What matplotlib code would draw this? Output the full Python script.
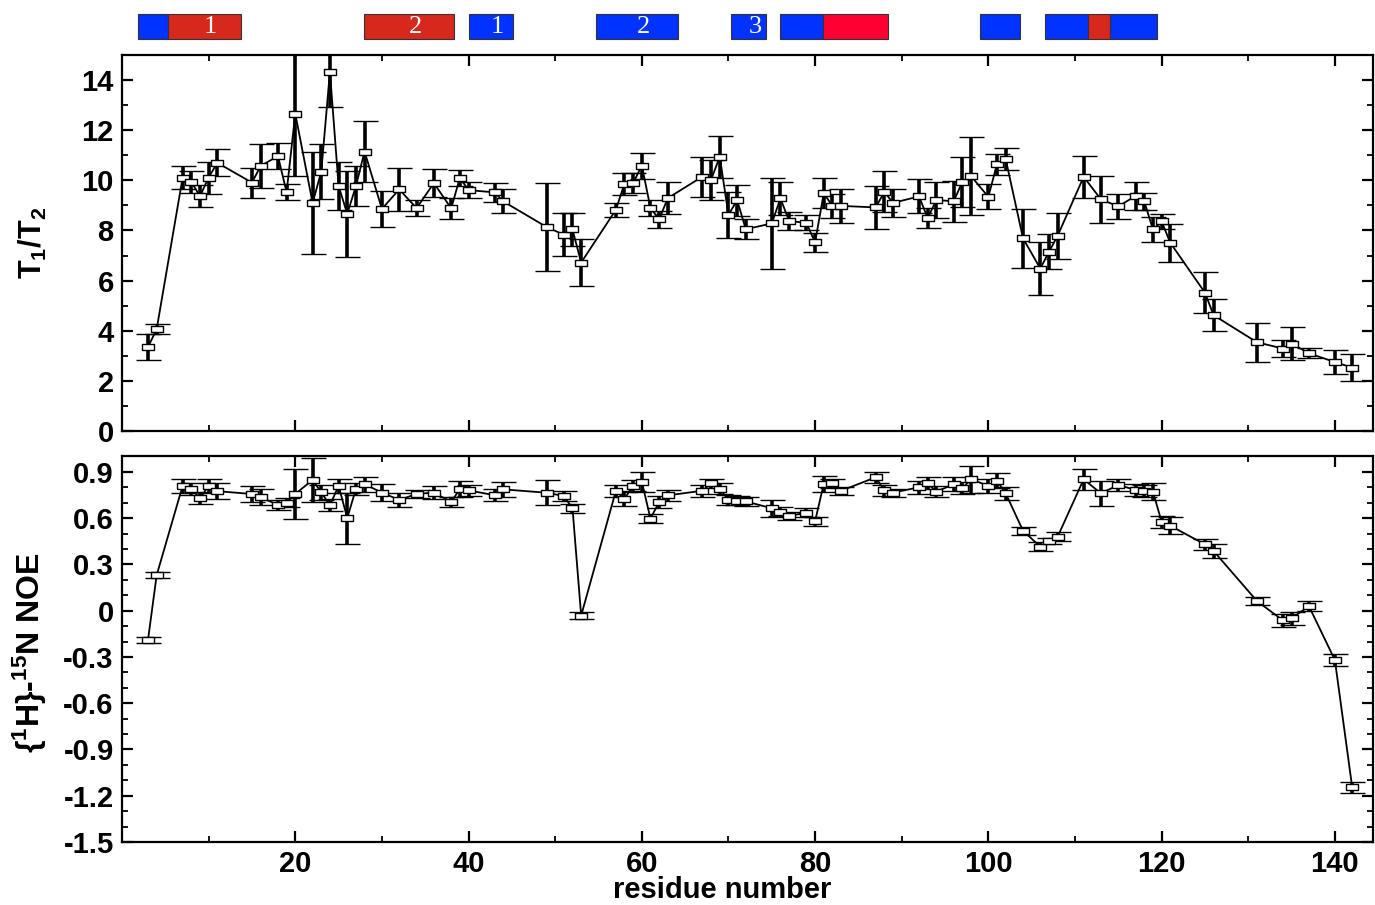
import matplotlib
matplotlib.use("Agg")
import matplotlib.pyplot as plt
from matplotlib.ticker import MultipleLocator, FixedLocator
import numpy as np

plt.rcParams['font.family'] = ['Liberation Sans', 'DejaVu Sans']
plt.rcParams['font.weight'] = 'bold'
plt.rcParams['axes.unicode_minus'] = False
plt.rcParams['mathtext.fontset'] = 'custom'
plt.rcParams['mathtext.rm'] = 'Liberation Sans:bold'
plt.rcParams['mathtext.it'] = 'Liberation Sans:bold'
plt.rcParams['mathtext.bf'] = 'Liberation Sans:bold'
plt.rcParams['mathtext.default'] = 'bf'

# ---------------- data ----------------
residues = [3, 4, 7, 8, 9, 10, 11, 15, 16, 18, 19, 20, 22, 23, 24, 25, 26, 27, 28, 30,
            32, 34, 36, 38, 39, 40, 43, 44, 49, 51, 52, 53, 57, 58, 59, 60, 61, 62, 63,
            67, 68, 69, 70, 71, 72, 75, 76, 77, 79, 80, 81, 82, 83, 87, 88, 89, 92, 93,
            94, 96, 97, 98, 100, 101, 102, 104, 106, 107, 108, 111, 113, 115, 117, 118,
            119, 120, 121, 125, 126, 131, 134, 135, 137, 140, 142]

t1t2 = [3.35, 4.06, 10.11, 9.94, 9.37, 10.11, 10.70, 9.91, 10.57, 10.97, 9.53, 12.66,
        9.10, 10.34, 14.33, 9.78, 8.66, 9.77, 11.15, 8.86, 9.64, 8.89, 9.89, 8.88,
        10.10, 9.61, 9.52, 9.16, 8.14, 7.83, 8.04, 6.72, 8.82, 9.87, 9.89, 10.59, 8.90,
        8.44, 9.29, 10.15, 10.03, 10.94, 8.62, 9.21, 8.05, 8.28, 9.28, 8.38, 8.30, 7.52,
        9.48, 8.98, 8.98, 8.92, 9.54, 9.10, 9.36, 8.49, 9.22, 9.16, 9.94, 10.17, 9.34,
        10.65, 10.85, 7.69, 6.48, 7.15, 7.79, 10.14, 9.24, 8.96, 9.38, 9.16, 8.04, 8.36,
        7.51, 5.52, 4.62, 3.54, 3.29, 3.49, 3.10, 2.75, 2.53]

t1t2_err = [0.53, 0.19, 0.45, 0.45, 0.43, 0.64, 0.54, 0.60, 0.86, 0.50, 0.31, 2.49,
            2.03, 1.10, 1.42, 0.97, 1.72, 0.80, 1.20, 0.71, 0.85, 0.32, 0.57, 0.42,
            0.33, 0.33, 0.39, 0.48, 1.74, 0.85, 0.65, 0.92, 0.28, 0.44, 0.40, 0.52, 0.32,
            0.35, 0.63, 0.80, 0.80, 0.83, 0.92, 0.62, 0.39, 1.82, 0.65, 0.35, 0.30, 0.36,
            0.60, 0.47, 0.68, 0.85, 0.82, 0.55, 0.68, 0.40, 0.71, 0.82, 1.00, 1.56, 0.50,
            0.42, 0.43, 1.17, 1.06, 0.70, 0.92, 0.85, 0.93, 0.51, 0.55, 0.33, 0.50, 0.30,
            0.76, 0.83, 0.65, 0.78, 0.35, 0.65, 0.20, 0.47, 0.53]

noe = [-0.19, 0.23, 0.81, 0.79, 0.73, 0.81, 0.775, 0.757, 0.736, 0.686, 0.70, 0.757,
       0.848, 0.768, 0.684, 0.81, 0.60, 0.79, 0.82, 0.766, 0.718, 0.757, 0.766, 0.705,
       0.79, 0.78, 0.749, 0.787, 0.765, 0.744, 0.664, -0.032, 0.776, 0.726, 0.81, 0.837,
       0.597, 0.705, 0.748, 0.778, 0.826, 0.79, 0.718, 0.714, 0.709, 0.664, 0.642, 0.614,
       0.636, 0.58, 0.822, 0.826, 0.778, 0.865, 0.78, 0.766, 0.80, 0.826, 0.772, 0.82,
       0.794, 0.852, 0.81, 0.843, 0.761, 0.519, 0.415, 0.454, 0.48, 0.852, 0.761, 0.815,
       0.783, 0.776, 0.772, 0.577, 0.551, 0.43, 0.387, 0.063, -0.063, -0.05, 0.03, -0.32,
       -1.146]

noe_err = [0.02, 0.02, 0.045, 0.04, 0.04, 0.045, 0.05, 0.05, 0.05, 0.03, 0.03, 0.16,
           0.14, 0.05, 0.04, 0.045, 0.165, 0.04, 0.05, 0.053, 0.043, 0.025, 0.04, 0.03,
           0.05, 0.035, 0.04, 0.05, 0.08, 0.03, 0.03, 0.025, 0.04, 0.045, 0.035, 0.064,
           0.03, 0.04, 0.035, 0.04, 0.03, 0.035, 0.035, 0.03, 0.03, 0.056, 0.03, 0.027,
           0.03, 0.028, 0.05, 0.03, 0.027, 0.034, 0.037, 0.026, 0.04, 0.04, 0.037, 0.045,
           0.04, 0.087, 0.045, 0.05, 0.043, 0.027, 0.03, 0.02, 0.028, 0.067, 0.08, 0.038,
           0.04, 0.04, 0.057, 0.038, 0.054, 0.035, 0.043, 0.025, 0.04, 0.04, 0.035, 0.038,
           0.036]

# secondary structure elements (start residue, end residue, kind, label)
ss_start = [1.8, 5.26, 27.95, 40.04, 54.67, 70.34, 75.97, 80.93, 99.0, 106.5, 111.45, 113.99]
ss_end   = [5.26, 13.79, 38.32, 45.1, 64.23, 74.37, 80.93, 88.4, 103.7, 111.45, 113.99, 119.51]
ss_kind  = ['blue', 'red', 'red', 'blue', 'blue', 'blue', 'blue', 'crimson', 'blue', 'blue', 'red', 'blue']
ss_label = ['', '1', '2', '1', '2', '3', '', '', '', '', '', '']

x_ticks = [20, 40, 60, 80, 100, 120, 140]
t1t2_ticks = [0, 2, 4, 6, 8, 10, 12, 14]
noe_ticks = [0.9, 0.6, 0.3, 0, -0.3, -0.6, -0.9, -1.2, -1.5]
noe_tick_labels = ['0.9', '0.6', '0.3', '0', '-0.3', '-0.6', '-0.9', '-1.2', '-1.5']

kind_colors = {'blue': '#0033FF', 'red': '#D7281E', 'crimson': '#FF0033'}

# ---------------- figure ----------------
W, H = 1375, 905
fig = plt.figure(figsize=(W / 100, H / 100), dpi=100)

def frac(left, top, right, bottom):
    return [left / W, 1 - bottom / H, (right - left) / W, (bottom - top) / H]

ax1 = fig.add_axes(frac(122, 55, 1373, 431))
ax2 = fig.add_axes(frac(122, 456.5, 1373, 842))
ax0 = fig.add_axes(frac(122, 0, 1373, 50))

XMIN, XMAX = 0, 144.4

box = [(-1, -0.55), (1, -0.55), (1, 0.55), (-1, 0.55), (-1, -0.55)]
eb_kw = dict(fmt='-', color='black', lw=1.3, elinewidth=2.6, capsize=9, capthick=1.1,
             marker=box, ms=8.5, mfc='white', mec='black', mew=1.0)

ax1.errorbar(residues, t1t2, yerr=t1t2_err, **eb_kw)
ax2.errorbar(residues, noe, yerr=noe_err, **eb_kw)

for ax in (ax1, ax2):
    ax.set_xlim(XMIN, XMAX)
    ax.xaxis.set_major_locator(FixedLocator(x_ticks))
    ax.xaxis.set_minor_locator(FixedLocator([10, 30, 50, 70, 90, 110, 130]))
    ax.tick_params(which='both', direction='in', top=True, right=True)
    ax.tick_params(which='major', length=8, width=1.6, labelsize=21, pad=6)
    ax.tick_params(which='minor', length=4, width=1.3)
    for s in ax.spines.values():
        s.set_linewidth(1.6)

ax1.set_ylim(0, 15)
ax1.yaxis.set_major_locator(FixedLocator(t1t2_ticks))
ax1.yaxis.set_minor_locator(MultipleLocator(1))
ax1.tick_params(axis='x', labelbottom=False)
ax1.set_ylabel(r'T$_1$/T$_2$', fontsize=22, fontweight='bold')
ax1.yaxis.set_label_coords(-0.058, 0.5)

ax2.set_ylim(-1.5, 1.0)
ax2.set_yticks(noe_ticks)
ax2.set_yticklabels(noe_tick_labels)
ax2.yaxis.set_minor_locator(MultipleLocator(0.1))
ax2.set_ylabel(r'{$^1$H}-$^{15}$N NOE', fontsize=23, fontweight='bold')
ax2.yaxis.set_label_coords(-0.058, 0.49)
ax2.set_xticklabels([str(t) for t in x_ticks])
fig.text(722 / W, 1 - 890 / H, 'residue number', ha='center', va='center',
         fontsize=21, fontweight='bold')

# secondary structure bar
ax0.set_xlim(XMIN, XMAX)
ax0.set_ylim(0, 1)
ax0.axis('off')
for s, e, k, lab in zip(ss_start, ss_end, ss_kind, ss_label):
    ax0.add_patch(plt.Rectangle((s, 0.22), e - s, 0.5, facecolor=kind_colors[k],
                                edgecolor='#333333', lw=0.8))
    if lab:
        ax0.text((s + e) / 2 + 0.7, 0.46, lab, ha='center', va='center', color='white',
                 fontsize=19, fontweight='normal', family=['Liberation Serif', 'DejaVu Serif'])

fig.savefig('out.png', dpi=100)
